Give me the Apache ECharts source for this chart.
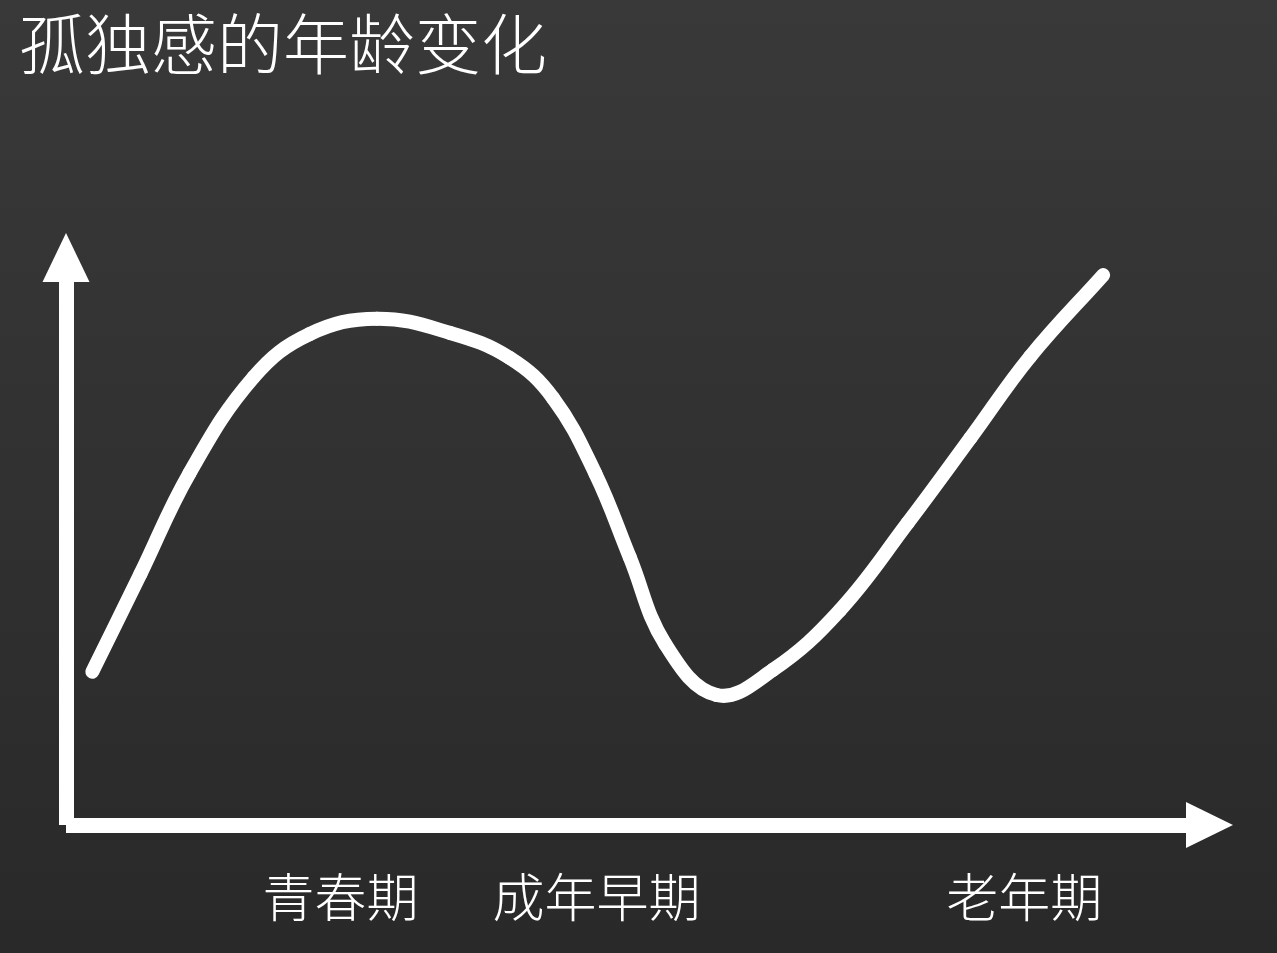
<!DOCTYPE html>
<html>
<head>
<meta charset="utf-8">
<script src="https://cdn.jsdelivr.net/npm/echarts@6/dist/echarts.min.js"></script>
<style>
html,body{margin:0;padding:0;background:#2f2f2f;}
#chart{width:1277px;height:953px;}
</style>
</head>
<body>
<div id="chart"></div>
<script>
var titleText = '孤独感的年龄变化';
var stageLabels = ['青春期', '成年早期', '老年期'];
var stagePositions = [24.0, 46.4, 83.8];
var curveX = [2.3, 6.5, 10.8, 16.4, 21.3, 27.2, 33.6, 38.8, 42.6, 46.3, 49.3, 52.4, 56.9, 61.8, 67.7, 73.6, 79.1, 84.3, 90.7];
var curveY = [27.0, 44.2, 62.0, 78.9, 86.5, 89.2, 86.7, 82.3, 75.2, 61.9, 47.2, 31.9, 22.9, 27.3, 37.9, 53.2, 68.2, 82.5, 96.9];

var chart = echarts.init(document.getElementById('chart'), null, {renderer: 'canvas'});
var points = curveX.map(function (x, i) { return [x, curveY[i]]; });
var cjk = '"Noto Sans CJK SC", "Noto Sans CJK JP", sans-serif';
var TENSION = 0.4;

function handles(pts, i) {
  var p = pts[i];
  var prev = pts[i - 1] || p;
  var next = pts[i + 1] || p;
  var vx = next[0] - prev[0], vy = next[1] - prev[1];
  var lp = Math.hypot(p[0] - prev[0], p[1] - prev[1]);
  var ln = Math.hypot(next[0] - p[0], next[1] - p[1]);
  var r = (lp + ln) ? ln / (lp + ln) : 0.5;
  return {
    inX: p[0] - vx * TENSION * (1 - r), inY: p[1] - vy * TENSION * (1 - r),
    outX: p[0] + vx * TENSION * r, outY: p[1] + vy * TENSION * r
  };
}

function renderCurve(params, api) {
  var i = params.dataIndex;
  if (i >= points.length - 1) { return null; }
  var pts = points.map(function (pt) { return api.coord(pt); });
  var a = handles(pts, i), b = handles(pts, i + 1);
  return {
    type: 'bezierCurve',
    silent: true,
    shape: {
      x1: pts[i][0], y1: pts[i][1],
      cpx1: a.outX, cpy1: a.outY,
      cpx2: b.inX, cpy2: b.inY,
      x2: pts[i + 1][0], y2: pts[i + 1][1]
    },
    style: {
      stroke: '#ffffff',
      fill: null,
      lineWidth: 14,
      lineCap: 'round',
      lineJoin: 'round'
    }
  };
}

chart.setOption({
  backgroundColor: {
    type: 'linear', x: 0, y: 0, x2: 0, y2: 1,
    colorStops: [
      {offset: 0, color: '#393939'},
      {offset: 0.5, color: '#313131'},
      {offset: 1, color: '#292929'}
    ]
  },
  animation: false,
  title: {
    text: titleText,
    left: 14,
    top: 6,
    textStyle: {
      color: '#ffffff',
      fontFamily: cjk,
      fontWeight: 300,
      fontSize: 66
    }
  },
  grid: {
    left: 66,
    right: 67.5,
    top: 257.5,
    bottom: 128,
    outerBoundsMode: 'none'
  },
  xAxis: {
    type: 'value',
    min: 0,
    max: 100,
    axisLine: {
      show: true,
      onZero: false,
      symbol: ['none', 'triangle'],
      symbolSize: [46, 47],
      lineStyle: {color: '#ffffff', width: 15, cap: 'butt'}
    },
    axisTick: {show: false},
    splitLine: {show: false},
    axisLabel: {
      show: true,
      customValues: stagePositions,
      margin: 44,
      color: '#ffffff',
      fontFamily: cjk,
      fontWeight: 300,
      fontSize: 52,
      lineHeight: 56,
      formatter: function (v) {
        var best = 0, d = Infinity;
        stagePositions.forEach(function (p, i) {
          if (Math.abs(p - v) < d) { d = Math.abs(p - v); best = i; }
        });
        return stageLabels[best];
      }
    }
  },
  yAxis: {
    type: 'value',
    min: 0,
    max: 100,
    axisLine: {
      show: true,
      onZero: false,
      symbol: ['none', 'triangle'],
      symbolSize: [47, 49],
      lineStyle: {color: '#ffffff', width: 15, cap: 'butt'}
    },
    axisTick: {show: false},
    splitLine: {show: false},
    axisLabel: {show: false}
  },
  series: [{
    type: 'custom',
    data: points,
    encode: {x: 0, y: 1},
    clip: false,
    silent: true,
    renderItem: renderCurve
  }]
});
</script>
</body>
</html>
